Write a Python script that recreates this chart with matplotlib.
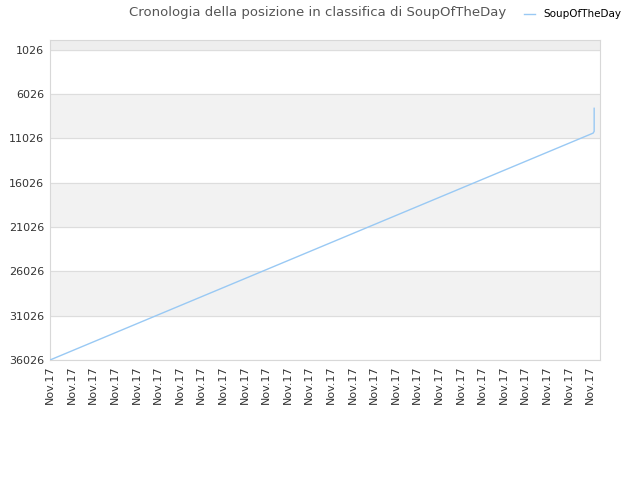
import matplotlib.pyplot as plt
import numpy as np

# data
days = [0, 25.14, 25.19, 25.19]
rank = [36026, 10450, 10250, 7650]
tick_pos = list(range(26))
tick_labels = ['Nov.17'] * 26
y_ticks = [1026, 6026, 11026, 16026, 21026, 26026, 31026, 36026]

fig = plt.figure(figsize=(6.4, 4.8), dpi=100)
ax = fig.add_axes([50/640, 120/480, 550/640, 320/480])

# bands
ax.axhspan(-100, 1026, color='#eeeeee', zorder=0)
for lo in [6026, 16026, 26026]:
    ax.axhspan(lo, lo + 5000, color='#f2f2f2', zorder=0)
for y in y_ticks:
    ax.axhline(y, color='#dddddd', lw=0.8, zorder=1)

ax.plot(days, rank, color='#99c9f4', lw=1, zorder=3, label='SoupOfTheDay')

ax.set_ylim(36026, -50)
ax.set_xlim(0, 25.46)
ax.set_yticks(y_ticks)
ax.set_yticklabels([str(v) for v in y_ticks], fontsize=8, color='#333333')
ax.set_xticks(tick_pos)
ax.set_xticklabels(tick_labels, rotation=90, fontsize=8, color='#333333')
ax.tick_params(length=0, pad=4)
for s in ax.spines.values():
    s.set_color('#d8d8d8')

fig.text(0.497, 0.987, 'Cronologia della posizione in classifica di SoupOfTheDay',
         ha='center', va='top', fontsize=9.5, color='#555555')
fig.legend(loc='upper right', bbox_to_anchor=(0.985, 1.0), frameon=False,
           fontsize=7.5, handlelength=1.0, handletextpad=0.8)

fig.savefig('out.png')
